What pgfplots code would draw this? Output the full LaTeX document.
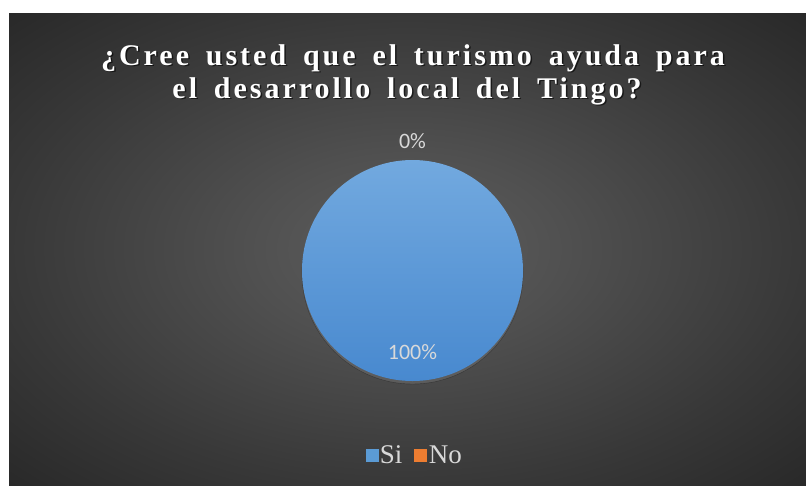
\documentclass[border=0pt]{standalone}
\usepackage{pgfplots}
\pgfplotsset{compat=1.18}
\usepackage{fontspec}
\setmainfont{Liberation Serif}
\newfontfamily\titlefont[LetterSpace=10, WordSpace=1.6]{Liberation Serif}
\newfontfamily\labelfont{Carlito}
\usetikzlibrary{shadows}

\definecolor{pieTop}{HTML}{72A9DF}
\definecolor{pieBot}{HTML}{4889CF}
\definecolor{siBlue}{HTML}{5B9BD5}
\definecolor{noOrange}{HTML}{ED7D31}
\definecolor{txt}{HTML}{D9D9D9}
\definecolor{bgA}{HTML}{5E5E5E}
\definecolor{bgB}{HTML}{505050}
\definecolor{bgC}{HTML}{383838}
\definecolor{bgD}{HTML}{282828}
\pgfdeclareradialshading{bgshade}{\pgfpoint{0bp}{0bp}}{%
  color(0bp)=(bgA); color(10bp)=(bgB); color(25bp)=(bgC);
  color(36bp)=(bgD); color(50bp)=(bgD)}

\begin{document}
\begin{tikzpicture}
\fill[white] (0,0) rectangle (806pt,-485pt);
\useasboundingbox (0,0) rectangle (806pt,-485pt);
\shade[shading=bgshade] (9pt,-13pt) rectangle (806pt,-485pt);

% title with a soft shadow
\foreach \dx/\dy/\c/\o in {1.5pt/-1.5pt/black/0.6, 0pt/0pt/white/1}{
  \begin{scope}[every node/.style={text=\c, text opacity=\o, anchor=base,
      font=\titlefont\bfseries\fontsize{30}{33}\selectfont}]
    \node at ([xshift=\dx, yshift=\dy]413pt,-65pt) {¿Cree usted que el turismo ayuda para};
    \node at ([xshift=\dx, yshift=\dy]407pt,-98pt) {el desarrollo local del Tingo?};
  \end{scope}
}

\begin{axis}[
  at={(412.5pt,-270.5pt)}, anchor=center,
  scale only axis, width=221pt, height=221pt,
  xmin=-1, xmax=1, ymin=-1, ymax=1,
  hide axis, clip=false,
  legend columns=-1,
  legend style={at={(0.51,-0.335)}, anchor=center, draw=none, fill=none,
    text=txt, font=\fontsize{27}{27}\selectfont,
    /tikz/every even column/.append style={column sep=10pt}},
  legend image code/.code={\fill[#1] (0pt,-6pt) rectangle (12pt,6pt);},
]
% pie: Si = 100 %, No = 0 % -> one full disc at the centre
\addplot[forget plot, only marks, mark=none,
  nodes near coords={},
  every node near coord/.append style={anchor=center, circle, inner sep=0pt,
    minimum size=221pt, top color=pieTop, bottom color=pieBot,
    drop shadow={shadow xshift=0pt, shadow yshift=-3pt, opacity=0.35}}]
  coordinates {(0,0)};
% data labels
\addplot[forget plot, only marks, mark=none,
  point meta=explicit symbolic, nodes near coords,
  every node near coord/.append style={anchor=center, text=txt,
    font=\labelfont\fontsize{22}{22}\selectfont}]
  coordinates {(0,1.17)[0\%] (0,-0.74)[100\%]};
\addlegendimage{siBlue}
\addlegendentry{Si}
\addlegendimage{noOrange}
\addlegendentry{No}
\end{axis}
\end{tikzpicture}
\end{document}
